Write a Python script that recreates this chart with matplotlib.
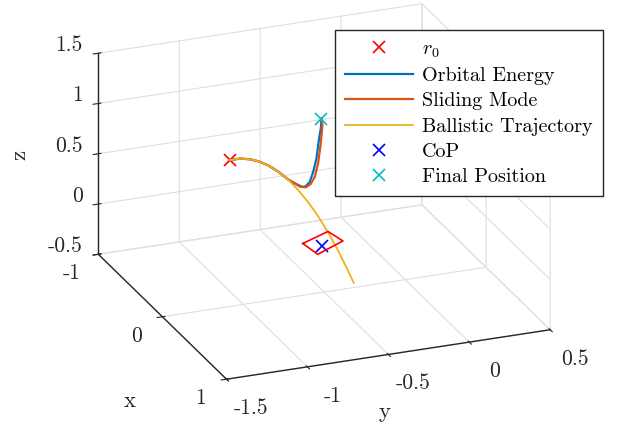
import matplotlib
matplotlib.use("Agg")
import matplotlib.pyplot as plt
from matplotlib.transforms import ScaledTranslation

plt.rcParams["font.family"] = "serif"
plt.rcParams["font.serif"] = ["cmr10"]
plt.rcParams["mathtext.fontset"] = "cm"
plt.rcParams["axes.unicode_minus"] = False
plt.rcParams["axes.formatter.use_mathtext"] = False

FS = 14.5      # legend
TICK_FS = 15.5
LABEL_FS = 16.5
TXT = "0.15"

# start point, final point, centre of pressure
r0 = (0.0, -1.082, 0.956)
final_pos = (0.0, -0.517, 1.229)
cop = (-0.01, -0.51, -0.045)

# ballistic trajectory (free flight from r0)
ball_x = [0.0] * 14
ball_y = [-1.082, -1.022, -0.962, -0.902, -0.842, -0.782, -0.722,
          -0.662, -0.602, -0.542, -0.482, -0.422, -0.362, -0.318]
ball_z = [0.956, 0.955, 0.935, 0.897, 0.840, 0.764, 0.670,
          0.556, 0.424, 0.274, 0.104, -0.084, -0.291, -0.454]

# orbital energy controller
oe_x = [0.0] * 17
oe_y = [-1.082, -1.022, -0.962, -0.902, -0.842, -0.782, -0.722, -0.670,
        -0.639, -0.626, -0.613, -0.589, -0.568, -0.548, -0.532, -0.521, -0.517]
oe_z = [0.956, 0.955, 0.935, 0.897, 0.840, 0.764, 0.672, 0.613,
        0.582, 0.577, 0.582, 0.619, 0.713, 0.841, 1.035, 1.134, 1.229]

# sliding mode controller
sm_x = [0.0] * 16
sm_y = [-1.082, -1.022, -0.962, -0.902, -0.842, -0.782, -0.722, -0.685,
        -0.650, -0.613, -0.584, -0.558, -0.538, -0.523, -0.511, -0.517]
sm_z = [0.956, 0.955, 0.935, 0.897, 0.840, 0.764, 0.672, 0.628,
        0.585, 0.569, 0.595, 0.661, 0.789, 0.966, 1.161, 1.229]

# support polygon around the CoP
foot_x = [-0.084, -0.197, -0.034, 0.097, -0.084]
foot_y = [-0.599, -0.399, -0.371, -0.579, -0.599]
foot_z = [-0.045] * 5

x_ticks = [-1, 0, 1]
y_ticks = [-1.5, -1, -0.5, 0, 0.5]
z_ticks = [-0.5, 0, 0.5, 1, 1.5]


def shift_ticklabels(ax, axis, dx, dy, ha="center"):
    # mplot3d resets tick label transforms on every draw, so hook in there
    get_ticks = axis.get_major_ticks

    def wrapped(numticks=None):
        ticks = get_ticks(numticks)
        off = ScaledTranslation(dx / 100, dy / 100, ax.figure.dpi_scale_trans)
        for t in ticks:
            t.label1.set_transform(ax.transData + off)
            t.label1.set_horizontalalignment(ha)
        return ticks
    axis.get_major_ticks = wrapped


fig = plt.figure(figsize=(6.24, 4.26), dpi=100)
ax = fig.add_axes([0.0104, 0.037, 1.0, 1.0], projection="3d")
ax.set_proj_type("ortho")
ax.view_init(elev=22.7, azim=-21.6)
ax.set_box_aspect((1, 1, 0.626), zoom=1.227)
ax.computed_zorder = False

ax.plot(*zip(r0), "x", color="r", ms=8, mew=1.2, label="$r_0$")
ax.plot(oe_x, oe_y, oe_z, color="#0072BD", lw=1.6, label="Orbital Energy")
ax.plot(sm_x, sm_y, sm_z, color="#D95319", lw=1.6, label="Sliding Mode")
ax.plot(ball_x, ball_y, ball_z, color="#EDB120", lw=1.3, label="Ballistic Trajectory")
ax.plot(*zip(cop), "x", color="b", ms=8, mew=1.2, label="CoP")
ax.plot(foot_x, foot_y, foot_z, color="r", lw=1.2)
ax.plot(*zip(final_pos), "x", color="c", ms=8, mew=1.2, label="Final Position")

ax.set_xlim(-1, 1)
ax.set_ylim(-1.5, 0.5)
ax.set_zlim(-0.5, 1.5)
ax.set_xticks(x_ticks)
ax.set_yticks(y_ticks)
ax.set_zticks(z_ticks)
ax.set_xticklabels([f"{t:g}" for t in x_ticks])
ax.set_yticklabels([f"{t:g}" for t in y_ticks])
ax.set_zticklabels([f"{t:g}" for t in z_ticks])

for axis in (ax.xaxis, ax.yaxis, ax.zaxis):
    axis.set_pane_color((1, 1, 1, 0))
    axis.pane.set_edgecolor("0.85")
    axis._axinfo["grid"]["color"] = "0.87"
    axis._axinfo["grid"]["linewidth"] = 0.8
    axis.line.set_color(TXT)
    axis.line.set_linewidth(1.0)
ax.zaxis.set_ticks_position("lower")
ax.tick_params(labelsize=TICK_FS, colors=TXT, pad=2)

shift_ticklabels(ax, ax.xaxis, -6, 6)
shift_ticklabels(ax, ax.yaxis, 17, 1)
shift_ticklabels(ax, ax.zaxis, 13, 13, ha="right")

# axis titles placed like the MATLAB original
fig.text(20 / 624, 1 - 155 / 426, "z", fontsize=LABEL_FS, color=TXT,
         rotation=90, ha="center", va="center")
fig.text(130 / 624, 1 - 401 / 426, "x", fontsize=LABEL_FS, color=TXT,
         ha="center", va="center")
fig.text(385 / 624, 1 - 412 / 426, "y", fontsize=LABEL_FS, color=TXT,
         ha="center", va="center")

leg = ax.legend(loc="upper right", bbox_to_anchor=(603 / 624, 1 - 30 / 426),
                bbox_transform=fig.transFigure, borderaxespad=0,
                fontsize=FS, handlelength=3.4, handletextpad=0.45,
                fancybox=False, edgecolor=TXT, framealpha=1,
                labelspacing=0.36, borderpad=0.5)
leg.get_frame().set_linewidth(1.0)

fig.savefig("out.png", dpi=100)
